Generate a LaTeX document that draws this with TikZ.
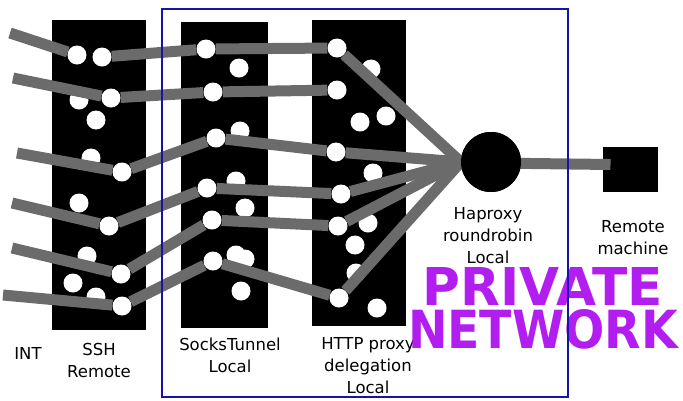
\documentclass[tikz,border=0pt]{standalone}
\usepackage{fontspec}
\setmainfont{DejaVu Sans}
\usepackage{graphicx}
\definecolor{linkgray}{RGB}{107,107,107}
\definecolor{netpurple}{RGB}{178,30,240}
\definecolor{frameblue}{RGB}{20,20,170}
\tikzset{
  block/.style={fill=black,inner sep=0pt},
  dot/.style={circle,fill=white,inner sep=0pt,minimum size=19pt},
  link/.style={draw=linkgray,line width=11pt},
  lbl/.style={align=center,font=\fontsize{16.5}{22}\selectfont,inner sep=0pt,anchor=base},
}
\begin{document}
\begin{tikzpicture}[x=1pt,y=-1pt]
    \useasboundingbox (0,0) rectangle (683,400);
    %% Labels (anchored at the baseline of the last line)
    \node[lbl] (intlbl) at (28,359) {INT};
    \node[lbl] (sshlbl) at (99,377) {SSH\\Remote};
    \node[lbl] (sockslbl) at (230,372) {SocksTunnel\\Local};
    \node[lbl] (httplbl) at (368,393) {HTTP proxy\\delegation\\Local};
    \node[lbl] (haplbl) at (488,263) {Haproxy\\roundrobin\\Local};
    \node[lbl] (remlbl) at (633,254) {Remote\\machine};
    %% Blocks
    \node[block,minimum width=94pt,minimum height=310pt] (ssh) at (99,175) {};
    \node[block,minimum width=87pt,minimum height=306pt] (socks) at (224.5,175) {};
    \node[block,minimum width=94pt,minimum height=306pt] (http) at (359,173) {};
    %% Dots of SSH Remote
    \node[dot] (a1) at (77,55) {};
    \node[dot] (a2) at (102,57) {};
    \node[dot] (a3) at (79,100) {};
    \node[dot] (a4) at (111,98) {};
    \node[dot] (a5) at (96,120) {};
    \node[dot] (a6) at (91,158) {};
    \node[dot] (a7) at (122,172) {};
    \node[dot] (a8) at (79,203) {};
    \node[dot] (a9) at (109,226) {};
    \node[dot] (a10) at (87,256) {};
    \node[dot] (a11) at (121,274) {};
    \node[dot] (a12) at (73,283) {};
    \node[dot] (a13) at (96,297) {};
    \node[dot] (a14) at (122,306) {};
    %% Dots of SocksTunnel Local
    \node[dot] (b1) at (206,49) {};
    \node[dot] (b2) at (239,68) {};
    \node[dot] (b3) at (213,92) {};
    \node[dot] (b4) at (240,131) {};
    \node[dot] (b5) at (216,138) {};
    \node[dot] (b6) at (236,181) {};
    \node[dot] (b7) at (207,188) {};
    \node[dot] (b8) at (245,208) {};
    \node[dot] (b9) at (212,220) {};
    \node[dot] (b10) at (236,255) {};
    \node[dot] (b11) at (245,259) {};
    \node[dot] (b12) at (213,261) {};
    \node[dot] (b13) at (241,291) {};
    %% Dots of HTTP proxy
    \node[dot] (c1) at (337,48) {};
    \node[dot] (c2) at (371,69) {};
    \node[dot] (c3) at (337,90) {};
    \node[dot] (c4) at (360,122) {};
    \node[dot] (c5) at (386,116) {};
    \node[dot] (c6) at (336,152) {};
    \node[dot] (c7) at (373,173) {};
    \node[dot] (c8) at (341,194) {};
    \node[dot] (c9) at (338,226) {};
    \node[dot] (c10) at (368,223) {};
    \node[dot] (c11) at (355,245) {};
    \node[dot] (c12) at (356,273) {};
    \node[dot] (c13) at (339,298) {};
    \node[dot] (c14) at (377,308) {};
    %% Haproxy and remote machine
    \node[circle,fill=black,inner sep=0pt,minimum size=60pt] (hap) at (491,162) {};
    \node[block,minimum width=55pt,minimum height=45pt] (rem) at (630.5,169.5) {};
    %% Links
    \coordinate (in1) at (10,33);
    \coordinate (in2) at (13,78);
    \coordinate (in3) at (17,153);
    \coordinate (in4) at (12,203);
    \coordinate (in5) at (12,248);
    \coordinate (in6) at (3,295);
    \draw[link] (in1) -- (a1) (a2) -- (b1) (b1) -- (c1) (c1) -- (hap.west);
    \draw[link] (in2) -- (a4) (a4) -- (b3) (b3) -- (c3);
    \draw[link] (in3) -- (a7) (a7) -- (b5) (b5) -- (c6) (c6) -- (hap.west);
    \draw[link] (in4) -- (a9) (a9) -- (b7) (b7) -- (c8) (c8) -- (hap.west);
    \draw[link] (in5) -- (a11) (a11) -- (b9) (b9) -- (c9) (c9) -- (hap.west);
    \draw[link] (in6) -- (a14) (a14) -- (b12) (b12) -- (c13) (c13) -- (hap.west);
    \draw[link] ([yshift=-1pt]hap.center) -- ([xshift=-20pt,yshift=5pt]rem.center);
    \node[circle,fill=black,inner sep=0pt,minimum size=60pt] (hapcore) at (hap) {};
    %% Private network
    \node[anchor=north,align=center,inner sep=0pt,text=netpurple,font=\fontsize{10}{43}\selectfont\bfseries] (priv) at (543,267)
        {\resizebox{240pt}{38pt}{PRIVATE}\\\resizebox{270pt}{39pt}{NETWORK}};
    \draw[frameblue,line width=2pt] (162,9) rectangle (568,397);
\end{tikzpicture}
\end{document}
